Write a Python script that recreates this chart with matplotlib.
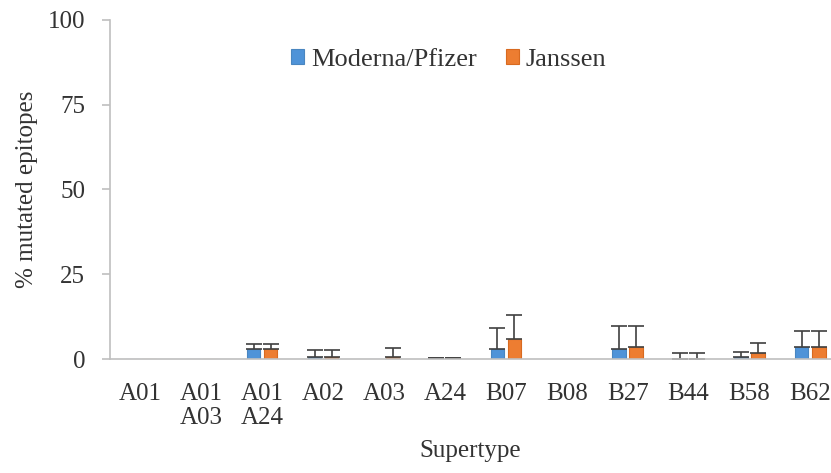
import numpy as np
import matplotlib.pyplot as plt

plt.rcParams['font.family'] = ['Liberation Serif', 'DejaVu Serif']

categories = ["A01", "A01\nA03", "A01\nA24", "A02", "A03", "A24",
              "B07", "B08", "B27", "B44", "B58", "B62"]
moderna = [0, 0, 2.9, 0.5, 0, 0.15, 3.0, 0, 3.0, 0, 0.5, 3.5]
moderna_err = [0, 0, 1.6, 2.2, 0, 0.2, 6.1, 0, 6.8, 1.8, 1.6, 4.8]
janssen = [0, 0, 2.9, 0.5, 0.5, 0.15, 5.9, 0, 3.5, 0, 1.8, 3.5]
janssen_err = [0, 0, 1.6, 2.2, 2.6, 0.2, 7.1, 0, 6.3, 1.8, 2.9, 4.8]

blue = "#4F93D8"
orange = "#ED7D31"
txt = "#333333"

fig = plt.figure(figsize=(8.31, 4.73), dpi=100)
ax = fig.add_axes([110 / 831, 114 / 473, 721 / 831, 339 / 473])

x = np.arange(len(categories))
w = 0.22
off = 0.14

def draw(xs, vals, errs, color, edge, label):
    ax.bar(xs, vals, w, color=color, edgecolor=edge, linewidth=0.8, label=label)
    xs_e = [xi for xi, e in zip(xs, errs) if e > 0]
    v_e = [v for v, e in zip(vals, errs) if e > 0]
    e_e = [e for e in errs if e > 0]
    ax.errorbar(xs_e, v_e, yerr=[np.zeros(len(e_e)), e_e], fmt="none",
                ecolor="#404040", elinewidth=1.2, capsize=6, capthick=1.2)

draw(x - off, moderna, moderna_err, blue, "#4a86c0", "Moderna/Pfizer")
draw(x + off, janssen, janssen_err, orange, "#d86a20", "Janssen")

ax.set_xlim(-0.5, 11.34)
ax.set_ylim(0, 100)
ax.set_yticks([0, 25, 50, 75, 100])
ax.set_xticks(x)
ax.set_xticklabels(categories, fontsize=18, color=txt, linespacing=1.15)
ax.tick_params(axis="y", labelsize=18, labelcolor=txt, color="#bfbfbf",
               length=6, width=1.2, direction="out", pad=12)
ax.tick_params(axis="x", length=0, pad=17)
for s in ["right", "top"]:
    ax.spines[s].set_visible(False)
for s in ["bottom", "left"]:
    ax.spines[s].set_color("#bfbfbf")
    ax.spines[s].set_linewidth(1.2)

ax.set_xlabel("Supertype", fontsize=18, color=txt, labelpad=8)
ax.set_ylabel("% mutated epitopes", fontsize=18, color=txt, labelpad=7)

handles, labels = ax.get_legend_handles_labels()
leg = fig.legend(handles, labels, loc="center", bbox_to_anchor=(0.540, 0.873),
                 ncol=2, frameon=False, fontsize=19, handlelength=0.5,
                 handleheight=0.5, handletextpad=0.25, columnspacing=1.1)
for t in leg.get_texts():
    t.set_color(txt)

fig.savefig("out.png", dpi=100)
